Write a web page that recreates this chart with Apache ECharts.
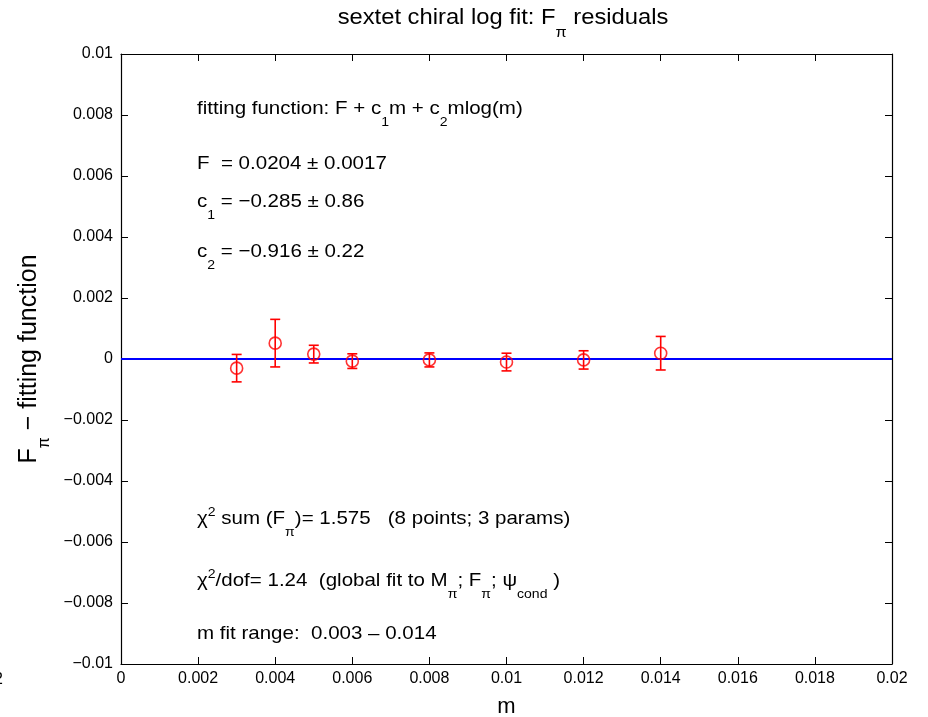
<!DOCTYPE html>
<html>
<head>
<meta charset="utf-8">
<title>sextet chiral log fit: F_pi residuals</title>
<script src="https://cdn.jsdelivr.net/npm/echarts@6/dist/echarts.min.js"></script>
<style>
  html, body { margin: 0; padding: 0; background: #ffffff; }
  #chart { width: 928px; height: 717px; }
</style>
</head>
<body>
<div id="chart"></div>
<script>
// quark mass values and F_pi residuals (data minus fit) with their errors
const mValues   = [0.003, 0.004, 0.005, 0.006, 0.008, 0.010, 0.012, 0.014];
const residuals = [-0.0003, 0.00052, 0.00016, -0.00007, -0.00003, -0.0001, -0.00003, 0.00019];
const errors    = [0.00045, 0.00078, 0.00029, 0.00024, 0.00023, 0.00029, 0.0003, 0.00055];

// zero reference line
const zeroLineM = [0, 0.02];
const zeroLineY = [0, 0];

// tick labels
const xTickLabels = ['0', '0.002', '0.004', '0.006', '0.008', '0.01', '0.012', '0.014', '0.016', '0.018', '0.02'];
const yTickLabels = ['\u22120.01', '\u22120.008', '\u22120.006', '\u22120.004', '\u22120.002', '0', '0.002', '0.004', '0.006', '0.008', '0.01'];

// annotation lines (rich text: {s|..} subscript, {p|..} superscript)
const fitLines = [
  'fitting function: F + c{s|1}m + c{s|2}mlog(m)',
  'F  = 0.0204 \u00b1 0.0017',
  'c{s|1} = \u22120.285 \u00b1 0.86',
  'c{s|2} = \u22120.916 \u00b1 0.22'
];
const statLines = [
  '\u03c7{p|2} sum (F{s|\u03c0})= 1.575   (8 points; 3 params)',
  '\u03c7{p|2}/dof= 1.24  (global fit to M{s|\u03c0}; F{s|\u03c0}; \u03c8{s|cond} )',
  'm fit range:  0.003 \u2013 0.014'
];
const titleText = 'sextet chiral log fit: F{s|\u03c0} residuals';
const yAxisTitle = 'F{s|\u03c0} \u2212 fitting function';
const xAxisTitle = 'm';

const FONT = '"Liberation Sans", Arial, Helvetica, sans-serif';

function richStyles(size, subSize, subDrop, supRise) {
  return {
    s: { fontSize: subSize, lineHeight: subSize, fontFamily: FONT, fill: '#000', color: '#000', padding: [subDrop, 0, 0, 0] },
    p: { fontSize: subSize, lineHeight: subSize, fontFamily: FONT, fill: '#000', color: '#000', padding: [0, 0, supRise, 0] }
  };
}

function textItem(text, x, y, size, align, sx) {
  return {
    type: 'text',
    x: x, y: y,
    scaleX: sx, scaleY: 1,
    z: 10,
    style: {
      text: text,
      x: 0, y: 0,
      fill: '#000',
      fontSize: size,
      fontFamily: FONT,
      textAlign: align,
      textVerticalAlign: 'middle',
      rich: richStyles(size, Math.round(size * 0.68), Math.round(size * 1.35), Math.round(size * 0.75))
    }
  };
}

const fitY = [109, 164, 202, 252];
const statY = [519, 581, 634];

const graphics = [];
graphics.push(textItem(titleText, 503, 18, 22, 'center', 1.08));
fitLines.forEach((t, i) => graphics.push(textItem(t, 197, fitY[i], 19, 'left', 1.08)));
statLines.forEach((t, i) => graphics.push(textItem(t, 197, statY[i], 19, 'left', 1.08)));
// stray label fragment at the left margin
graphics.push({ type: 'text', x: -6, y: 680, style: { text: '2', fontSize: 16, fontFamily: FONT, fill: '#000', textVerticalAlign: 'middle' } });

const errData = mValues.map((m, i) => [m, residuals[i], errors[i]]);
const pointData = mValues.map((m, i) => [m, residuals[i]]);
const zeroData = zeroLineM.map((m, i) => [m, zeroLineY[i]]);

const axisCommon = {
  axisLine: { show: true, onZero: false, lineStyle: { color: '#000', width: 1.2 } },
  axisTick: { show: true, inside: true, length: 7, lineStyle: { color: '#000', width: 1 } },
  splitLine: { show: false }
};

const chart = echarts.init(document.getElementById('chart'), null, { renderer: 'canvas' });
chart.setOption({
  backgroundColor: '#ffffff',
  animation: false,
  grid: { left: 121, right: 36, top: 54, bottom: 53, containLabel: false, outerBoundsMode: 'none' },
  xAxis: [
    Object.assign({
      type: 'value', min: 0, max: 0.02, interval: 0.002, position: 'bottom',
      name: xAxisTitle, nameLocation: 'middle', nameGap: 32,
      nameTextStyle: { fontSize: 22, fontFamily: FONT, color: '#000' },
      axisLabel: {
        show: true, margin: 7, fontSize: 16, fontFamily: FONT, color: '#000',
        formatter: (v, idx) => xTickLabels[Math.round(v / 0.002)]
      }
    }, axisCommon),
    Object.assign({
      type: 'value', min: 0, max: 0.02, interval: 0.002, position: 'top',
      axisLabel: { show: false }
    }, axisCommon)
  ],
  yAxis: [
    Object.assign({
      type: 'value', min: -0.01, max: 0.01, interval: 0.002, position: 'left',
      name: yAxisTitle, nameLocation: 'middle', nameGap: 78, nameRotate: 90,
      nameTextStyle: {
        fontSize: 25, fontFamily: FONT, color: '#000',
        rich: {
          s: { fontSize: 16, lineHeight: 16, fontFamily: FONT, color: '#000', padding: [32, 0, 0, 0] }
        }
      },
      axisLabel: {
        show: true, margin: 8, fontSize: 16, fontFamily: FONT, color: '#000',
        formatter: (v) => yTickLabels[Math.round((v + 0.01) / 0.002)]
      }
    }, axisCommon),
    Object.assign({
      type: 'value', min: -0.01, max: 0.01, interval: 0.002, position: 'right',
      axisLabel: { show: false }
    }, axisCommon)
  ],
  series: [
    {
      name: 'zero',
      type: 'line',
      xAxisIndex: 0, yAxisIndex: 0,
      data: zeroData,
      symbol: 'none',
      lineStyle: { color: '#0000ff', width: 2 },
      z: 2,
      silent: true
    },
    {
      name: 'error bars',
      type: 'custom',
      xAxisIndex: 0, yAxisIndex: 0,
      data: errData,
      encode: { x: 0, y: [1, 2] },
      z: 3,
      renderItem: function (params, api) {
        const x = api.value(0), y = api.value(1), e = api.value(2);
        const top = api.coord([x, y + e]);
        const bot = api.coord([x, y - e]);
        const hw = 5;
        const st = { stroke: '#ff0000', lineWidth: 1.6 };
        return {
          type: 'group',
          children: [
            { type: 'line', shape: { x1: top[0], y1: top[1], x2: bot[0], y2: bot[1] }, style: st },
            { type: 'line', shape: { x1: top[0] - hw, y1: top[1], x2: top[0] + hw, y2: top[1] }, style: st },
            { type: 'line', shape: { x1: bot[0] - hw, y1: bot[1], x2: bot[0] + hw, y2: bot[1] }, style: st }
          ]
        };
      }
    },
    {
      name: 'residuals',
      type: 'scatter',
      xAxisIndex: 0, yAxisIndex: 0,
      data: pointData,
      symbol: 'circle',
      symbolSize: 12,
      itemStyle: { color: 'rgba(0,0,0,0)', borderColor: '#ff0000', borderWidth: 1.6 },
      z: 4
    }
  ],
  graphic: graphics
});
</script>
</body>
</html>
